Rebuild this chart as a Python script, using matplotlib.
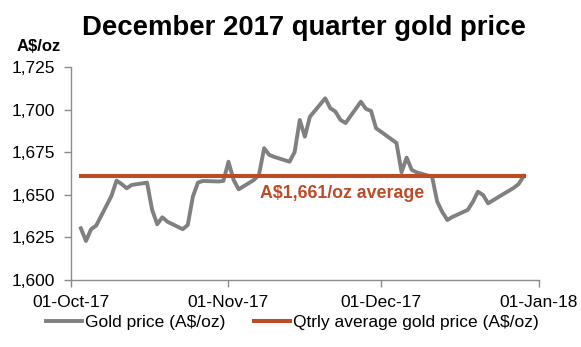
import numpy as np
import pandas as pd
import matplotlib
matplotlib.use("Agg")
from matplotlib import pyplot as plt
import matplotlib.dates as mdates

plt.rcParams['font.family'] = ['Liberation Sans', 'DejaVu Sans']

# daily A$ gold price, Dec 2017 quarter (trading days)
dates = ["2017-10-03", "2017-10-04", "2017-10-05", "2017-10-06",
         "2017-10-09", "2017-10-10", "2017-10-11", "2017-10-12", "2017-10-13",
         "2017-10-16", "2017-10-17", "2017-10-18", "2017-10-19", "2017-10-20",
         "2017-10-23", "2017-10-24", "2017-10-25", "2017-10-26", "2017-10-27",
         "2017-10-30", "2017-10-31", "2017-11-01", "2017-11-02", "2017-11-03",
         "2017-11-06", "2017-11-07", "2017-11-08", "2017-11-09", "2017-11-10",
         "2017-11-13", "2017-11-14", "2017-11-15", "2017-11-16", "2017-11-17",
         "2017-11-20", "2017-11-21", "2017-11-22", "2017-11-23", "2017-11-24",
         "2017-11-27", "2017-11-28", "2017-11-29", "2017-11-30", "2017-12-01",
         "2017-12-04", "2017-12-05", "2017-12-06", "2017-12-07", "2017-12-08",
         "2017-12-11", "2017-12-12", "2017-12-13", "2017-12-14", "2017-12-15",
         "2017-12-18", "2017-12-19", "2017-12-20", "2017-12-21", "2017-12-22",
         "2017-12-27", "2017-12-28", "2017-12-29"]
gold = [1630.3, 1622.9, 1629.8, 1631.9,
        1649.3, 1658.3, 1656.3, 1653.8, 1655.8,
        1657.1, 1641.1, 1632.7, 1636.8, 1634.2,
        1629.8, 1632.3, 1648.9, 1657.2, 1658.1,
        1657.8, 1658.1, 1669.4, 1658.7, 1653.2,
        1658.7, 1661.9, 1677.3, 1673.4, 1672.2,
        1669.4, 1675.1, 1693.9, 1684.1, 1695.8,
        1706.6, 1700.8, 1698.8, 1693.9, 1692.1,
        1704.6, 1700.4, 1699.2, 1689.0, 1686.9,
        1680.4, 1663.2, 1671.8, 1664.6, 1663.1,
        1660.6, 1646.0, 1639.9, 1635.2, 1637.0,
        1641.1, 1645.8, 1651.8, 1649.9, 1645.0,
        1654.0, 1656.3, 1661.0]
qtr_avg = 1661

x = pd.to_datetime(dates)
avg = [qtr_avg] * len(x)

grey = '#808080'
rust = '#BE4B28'
axis_col = '#8C8C8C'

fig = plt.figure(figsize=(5.81, 3.47), dpi=100)
ax = fig.add_axes([0.1217, 0.1931, 0.806, 0.614])

ax.plot(x, gold, color=grey, lw=2.8, label='Gold price (A$/oz)', solid_joinstyle='round')
ax.plot(x, avg, color=rust, lw=2.9, label='Qtrly average gold price (A$/oz)')

ax.set_xlim(pd.Timestamp('2017-10-01'), pd.Timestamp('2018-01-01'))
ax.set_ylim(1600, 1725)
ax.set_yticks(np.arange(1600, 1726, 25))
ax.yaxis.set_major_formatter(matplotlib.ticker.FuncFormatter(lambda v, p: f'{v:,.0f}'))
ax.set_xticks(pd.to_datetime(['2017-10-01', '2017-11-01', '2017-12-01', '2018-01-01']))
ax.xaxis.set_major_formatter(mdates.DateFormatter('%d-%b-%y'))

for s in ['top', 'right']:
    ax.spines[s].set_visible(False)
for s in ['left', 'bottom']:
    ax.spines[s].set_color(axis_col)
    ax.spines[s].set_linewidth(1.0)
ax.tick_params(axis='both', colors=axis_col, labelcolor='black', labelsize=12.5, length=5, width=1.0)
ax.tick_params(axis='y', pad=6)
ax.tick_params(axis='x', pad=6)

ax.text(pd.Timestamp('2017-11-23 06:00'), 1650.5, 'A$1,661/oz average', color=rust,
        fontsize=12.8, fontweight='bold', ha='center', va='center')

fig.text(0.523, 0.92, 'December 2017 quarter gold price', fontsize=19.8, fontweight='bold',
         ha='center', va='center')
fig.text(0.067, 0.865, 'A$/oz', fontsize=12, fontweight='bold', ha='center', va='center')

fig.legend(loc='center', bbox_to_anchor=(0.503, 0.072), ncol=2, frameon=False,
           fontsize=12.5, handlelength=2.1, handletextpad=0.15, columnspacing=1.65)

fig.savefig('out.png', dpi=100)
